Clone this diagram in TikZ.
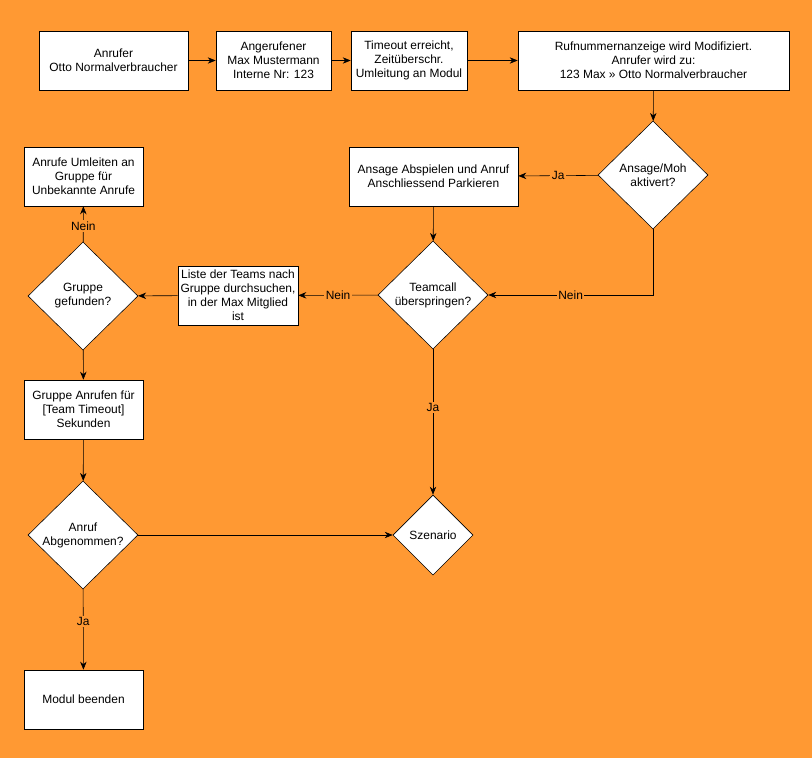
\documentclass[tikz,border=0pt]{standalone}
\usepackage{fontspec}
\setmainfont{Liberation Sans}
\usetikzlibrary{positioning}
\usetikzlibrary{shapes.geometric}
\usetikzlibrary{arrows.meta}
\definecolor{bgorange}{HTML}{FF9933}

\tikzset{
    box/.style={draw, fill=white, align=center, inner sep=1pt, font=\fontsize{8.5}{10}\selectfont},
    dia/.style={draw, fill=white, diamond, aspect=1, align=center, inner sep=0pt, minimum width=2.75cm, minimum height=2.7cm, font=\fontsize{8.5}{10}\selectfont},
    arr/.style={-{Stealth[length=2mm,width=1.6mm]}},
    lbl/.style={fill=bgorange, inner sep=1pt, font=\fontsize{8.5}{10}\selectfont}
}

\begin{document}
\begin{tikzpicture}[x=0.025cm, y=-0.025cm]
    \fill[bgorange] (0, 0) rectangle (812, 758);
    % top row
    \node[box, minimum width=3.725cm, minimum height=1.475cm] (anrufer) at (113.5, 60.5) {Anrufer\\Otto Normalverbraucher};
    \node[box, minimum width=2.875cm, minimum height=1.475cm] (angerufen) at (273.5, 60.5) {Angerufener\\Max Mustermann\\Interne Nr: 123};
    \node[box, minimum width=2.9cm, minimum height=1.475cm] (timeout) at (409, 60.5) {Timeout erreicht,\\Zeitüberschr.\\Umleitung an Modul};
    \node[box, minimum width=6.775cm, minimum height=1.475cm] (rufnr) at (653.5, 60.5) {Rufnummernanzeige wird Modifiziert.\\Anrufer wird zu:\\123 Max >> Otto Normalverbraucher};
    % decisions and steps
    \node[dia] (ansage) at (653, 175) {Ansage/Moh\\aktivert?};
    \node[box, minimum width=4.225cm, minimum height=1.475cm] (abspielen) at (433.5, 176.5) {Ansage Abspielen und Anruf\\Anschliessend Parkieren};
    \node[box, minimum width=2.975cm, minimum height=1.475cm] (umleiten) at (83.5, 176.5) {Anrufe Umleiten an\\Gruppe für\\Unbekannte Anrufe};
    \node[dia] (teamcall) at (433, 295) {Teamcall\\überspringen?};
    \node[box, minimum width=3cm, minimum height=1.475cm] (liste) at (238, 295.5) {Liste der Teams nach\\Gruppe durchsuchen,\\in der Max Mitglied\\ist};
    \node[dia] (gefunden) at (83, 296) {Gruppe\\gefunden?};
    \node[box, minimum width=2.975cm, minimum height=1.475cm] (anrufen) at (83.5, 409.5) {Gruppe Anrufen für\\{[}Team Timeout{]}\\Sekunden};
    \node[dia] (abgenommen) at (83, 535) {Anruf\\Abgenommen?};
    \node[dia, minimum width=2cm, minimum height=2cm] (szenario) at (433, 535) {Szenario};
    \node[box, minimum width=2.975cm, minimum height=1.475cm] (beenden) at (83.5, 699.5) {Modul beenden};

    \draw[arr] (anrufer) -- (angerufen);
    \draw[arr] (angerufen) -- (timeout);
    \draw[arr] (timeout) -- (rufnr);
    \draw[arr] (rufnr) -- (ansage);
    \draw[arr] (ansage) -- node[lbl] {Ja} (abspielen);
    \draw[arr] (ansage.south) |- node[lbl, pos=0.75] {Nein} (teamcall.east);
    \draw[arr] (abspielen) -- (teamcall);
    \draw[arr] (teamcall) -- node[lbl] {Nein} (liste);
    \draw[arr] (liste) -- (gefunden);
    \draw[arr] (gefunden) -- node[lbl, pos=0.45] {Nein} (umleiten);
    \draw[arr] (gefunden) -- (anrufen);
    \draw[arr] (anrufen) -- (abgenommen);
    \draw[arr] (abgenommen) -- (szenario);
    \draw[arr] (teamcall) -- node[lbl, pos=0.4] {Ja} (szenario);
    \draw[arr] (abgenommen) -- node[lbl, pos=0.4] {Ja} (beenden);
\end{tikzpicture}
\end{document}
